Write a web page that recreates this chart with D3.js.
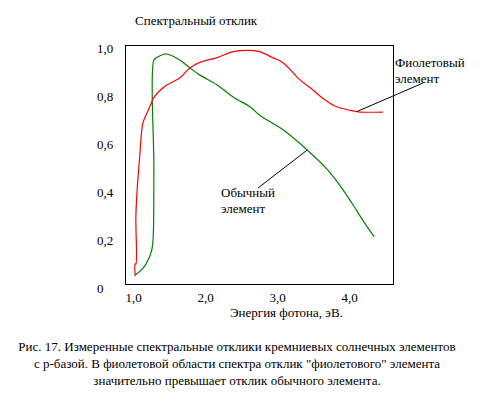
<!DOCTYPE html>
<html>
<head>
<meta charset="utf-8">
<script src="https://cdn.jsdelivr.net/npm/d3@7"></script>
<style>
  body { margin: 0; background: #fff; }
  text { font-family: "Liberation Serif", "Times New Roman", serif; fill: #000; }
</style>
</head>
<body>
<div id="container"></div>
<script>
// size of the page
let w = 499;
let h = 399;

// data
// "violet" element (red line)
let violetEnergy = [1.03, 1.03, 1.04, 1.04, 1.06, 1.08, 1.10, 1.11, 1.14, 1.21, 1.26, 1.28, 1.44, 1.65, 1.79, 1.93, 2.17, 2.39, 2.63, 2.76, 2.94, 3.08, 3.32, 3.50, 3.64, 3.83, 4.11, 4.15, 4.47];
let violetResp   = [0.05, 0.10, 0.10, 0.30, 0.42, 0.50, 0.575, 0.62, 0.69, 0.74, 0.775, 0.79, 0.84, 0.875, 0.917, 0.94, 0.96, 0.985, 0.99, 0.985, 0.96, 0.94, 0.867, 0.825, 0.79, 0.755, 0.735, 0.733, 0.733];
// ordinary element (green line)
let ordEnergy = [1.03, 1.14, 1.21, 1.26, 1.28, 1.29, 1.29, 1.33, 1.44, 1.47, 1.65, 1.79, 1.93, 2.17, 2.39, 2.63, 2.76, 3.08, 3.42, 3.71, 3.90, 4.04, 4.19, 4.35];
let ordResp   = [0.054, 0.083, 0.117, 0.158, 0.21, 0.50, 0.95, 0.96, 0.975, 0.975, 0.95, 0.917, 0.887, 0.846, 0.796, 0.754, 0.72, 0.66, 0.575, 0.49, 0.416, 0.354, 0.283, 0.213];

let xTicks = [1, 2, 3, 4];
let yTicks = [0, 0.2, 0.4, 0.6, 0.8, 1.0];

let titleText = "Спектральный отклик";
let xLabelText = "Энергия фотона, эВ.";
let violetLabel = ["Фиолетовый", "элемент"];
let ordLabel = ["Обычный", "элемент"];
let caption = [
  "Рис. 17. Измеренные спектральные отклики кремниевых солнечных элементов",
  "с p-базой. В фиолетовой области спектра отклик \"фиолетового\" элемента",
  "значительно превышает отклик обычного элемента."
];

let viz = d3.select("#container")
  .append("svg")
    .attr("width", w)
    .attr("height", h)
;

// scales
let xScale = d3.scaleLinear().domain([1, 4]).range([133, 349]);
let yScale = d3.scaleLinear().domain([0, 1]).range([288, 48]);

// the frame around the plot
viz.append("rect")
  .attr("x", 125.5)
  .attr("y", 45.5)
  .attr("width", 268)
  .attr("height", 239)
  .attr("fill", "none")
  .attr("stroke", "black")
  .attr("stroke-width", 1.2)
  .attr("shape-rendering", "crispEdges")
;

function commaFormat(d){
  if (d == 0) return "0";
  return d3.format(".1f")(d).replace(".", ",");
}

// y axis labels (no tick lines)
let yAxis = d3.axisLeft(yScale).tickValues(yTicks).tickFormat(commaFormat).tickSize(0);
let yAxisGroup = viz.append("g").attr("transform", "translate(97,0)").call(yAxis);
yAxisGroup.select(".domain").remove();
yAxisGroup.attr("font-family", null);
yAxisGroup.selectAll("text")
  .attr("x", 0)
  .attr("text-anchor", "start")
  .attr("font-size", 13)
;

// x axis labels
let xAxis = d3.axisBottom(xScale).tickValues(xTicks).tickFormat(commaFormat).tickSize(0);
let xAxisGroup = viz.append("g").attr("transform", "translate(0,290)").call(xAxis);
xAxisGroup.select(".domain").remove();
xAxisGroup.attr("font-family", null);
xAxisGroup.selectAll("text")
  .attr("y", 3)
  .attr("font-size", 13)
;

// lines, smoothed a little
let line = d3.line()
  .x(function(d){ return xScale(d[0]); })
  .y(function(d){ return yScale(d[1]); })
  .curve(d3.curveCatmullRom.alpha(0.5))
;
let violetData = violetEnergy.map(function(d, i){ return [d, violetResp[i]]; });
let ordData = ordEnergy.map(function(d, i){ return [d, ordResp[i]]; });

viz.append("path")
  .datum(ordData)
  .attr("d", line)
  .attr("fill", "none")
  .attr("stroke", "#008000")
  .attr("stroke-width", 1.2)
;
viz.append("path")
  .datum(violetData)
  .attr("d", line)
  .attr("fill", "none")
  .attr("stroke", "#ff0000")
  .attr("stroke-width", 1.2)
;

// pointer lines for the labels
viz.append("line")
  .attr("x1", xScale(4.11)).attr("y1", yScale(0.735))
  .attr("x2", 423).attr("y2", 83)
  .attr("stroke", "black").attr("stroke-width", 1);
viz.append("line")
  .attr("x1", 258).attr("y1", 188)
  .attr("x2", xScale(3.42)).attr("y2", yScale(0.575))
  .attr("stroke", "black").attr("stroke-width", 1);

// texts
viz.append("text")
  .attr("x", 135).attr("y", 25)
  .attr("font-size", 13)
  .text(titleText);

viz.append("text")
  .attr("x", 230).attr("y", 317)
  .attr("font-size", 13)
  .text(xLabelText);

viz.selectAll(".violetLabel").data(violetLabel).enter()
  .append("text")
  .attr("x", 395)
  .attr("y", function(d, i){ return 67 + i * 16; })
  .attr("font-size", 13)
  .text(function(d){ return d; });

viz.selectAll(".ordLabel").data(ordLabel).enter()
  .append("text")
  .attr("x", 221)
  .attr("y", function(d, i){ return 197 + i * 16; })
  .attr("font-size", 13)
  .text(function(d){ return d; });

viz.selectAll(".caption").data(caption).enter()
  .append("text")
  .attr("x", 237)
  .attr("y", function(d, i){ return 351 + i * 17; })
  .attr("text-anchor", "middle")
  .attr("font-size", 13)
  .text(function(d){ return d; });
</script>
</body>
</html>
